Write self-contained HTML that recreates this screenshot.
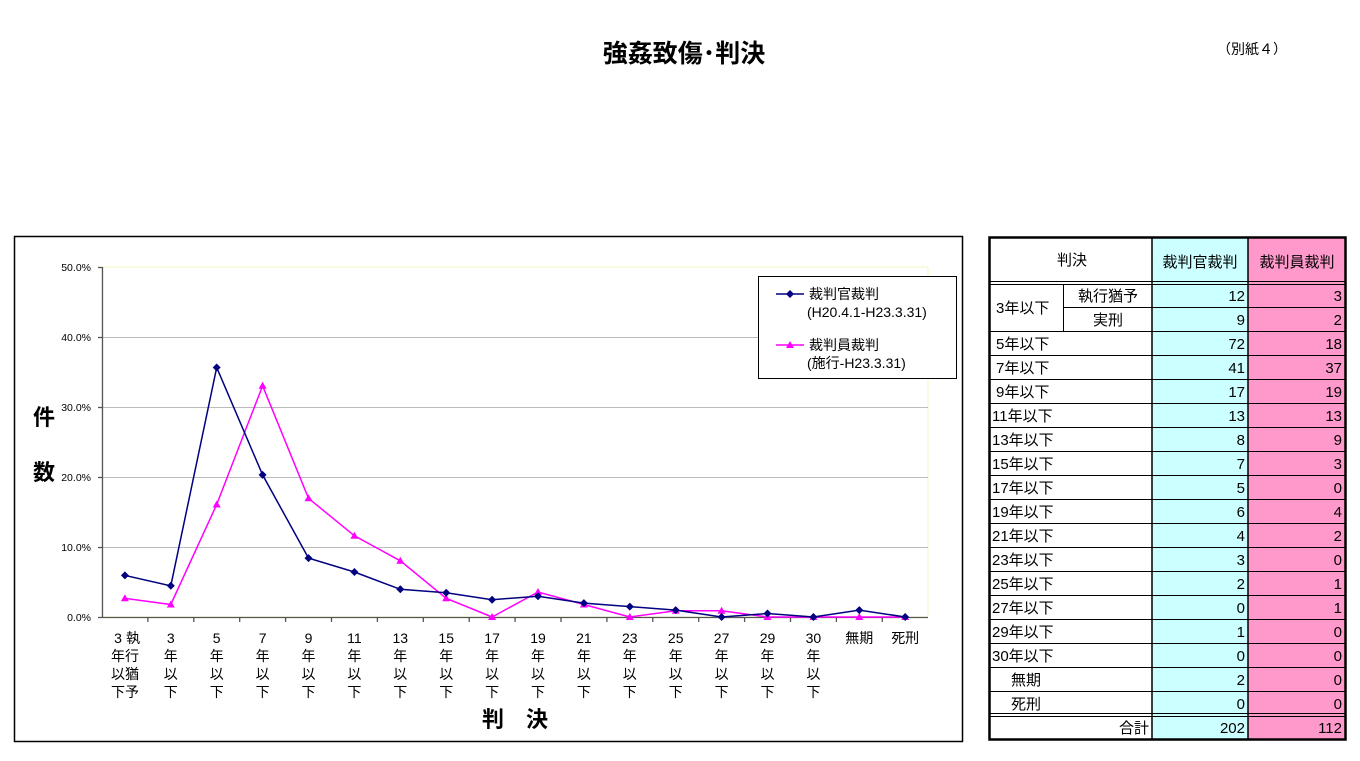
<!DOCTYPE html>
<html><head><meta charset="utf-8"><style>
body{margin:0;background:#fff;width:1360px;height:756px;overflow:hidden;font-family:"Liberation Sans","Noto Sans CJK JP",sans-serif;}
svg text{font-family:"Liberation Sans","Noto Sans CJK JP",sans-serif;}
</style></head><body>
<svg width="1360" height="756" xmlns="http://www.w3.org/2000/svg">
<text x="684" y="62" font-size="25" font-weight="bold" text-anchor="middle">強姦致傷･判決</text>
<text x="1252" y="54" font-size="14" text-anchor="middle">（別紙４）</text>
<rect x="14.5" y="236.5" width="948" height="505" fill="#fff" stroke="#000" stroke-width="1.5"/>
<rect x="102" y="267" width="826" height="350" fill="#fff" stroke="#f4f4c0" stroke-width="1"/>
<g stroke="#bbb" stroke-width="1">
<line x1="102" y1="337.5" x2="928" y2="337.5"/><line x1="102" y1="407.5" x2="928" y2="407.5"/>
<line x1="102" y1="477.5" x2="928" y2="477.5"/><line x1="102" y1="547.5" x2="928" y2="547.5"/>
</g>
<g stroke="#555" stroke-width="1.3">
<line x1="102.5" y1="267" x2="102.5" y2="617"/><line x1="102" y1="617.5" x2="928" y2="617.5"/>
<line x1="98" y1="267.5" x2="102" y2="267.5"/><line x1="98" y1="337.5" x2="102" y2="337.5"/><line x1="98" y1="407.5" x2="102" y2="407.5"/><line x1="98" y1="477.5" x2="102" y2="477.5"/><line x1="98" y1="547.5" x2="102" y2="547.5"/><line x1="98" y1="617.5" x2="102" y2="617.5"/>
<line x1="147.9" y1="617" x2="147.9" y2="622"/><line x1="193.8" y1="617" x2="193.8" y2="622"/><line x1="239.7" y1="617" x2="239.7" y2="622"/><line x1="285.6" y1="617" x2="285.6" y2="622"/><line x1="331.5" y1="617" x2="331.5" y2="622"/><line x1="377.4" y1="617" x2="377.4" y2="622"/><line x1="423.3" y1="617" x2="423.3" y2="622"/><line x1="469.2" y1="617" x2="469.2" y2="622"/><line x1="515.1" y1="617" x2="515.1" y2="622"/><line x1="561" y1="617" x2="561" y2="622"/><line x1="606.9" y1="617" x2="606.9" y2="622"/><line x1="652.8" y1="617" x2="652.8" y2="622"/><line x1="698.7" y1="617" x2="698.7" y2="622"/><line x1="744.6" y1="617" x2="744.6" y2="622"/><line x1="790.5" y1="617" x2="790.5" y2="622"/><line x1="836.4" y1="617" x2="836.4" y2="622"/><line x1="882.3" y1="617" x2="882.3" y2="622"/>
</g>
<g font-size="10.5" text-anchor="end" fill="#000">
<text x="91" y="271">50.0%</text><text x="91" y="341">40.0%</text><text x="91" y="411">30.0%</text><text x="91" y="481">20.0%</text><text x="91" y="551">10.0%</text><text x="91" y="621">0.0%</text>
</g>
<text x="44" y="425" font-size="22" font-weight="bold" text-anchor="middle">件</text>
<text x="44" y="480" font-size="22" font-weight="bold" text-anchor="middle">数</text>
<text x="515" y="727" font-size="22" font-weight="bold" text-anchor="middle">判　決</text>
<g font-size="14" text-anchor="middle">
<text x="118" y="643">3</text><text x="133" y="643">執</text><text x="125" y="661">年行</text><text x="125" y="679">以猶</text><text x="125" y="697">下予</text>
<text x="170.8" y="643">3</text><text x="170.8" y="661">年</text><text x="170.8" y="679">以</text><text x="170.8" y="697">下</text>
<text x="216.7" y="643">5</text><text x="216.7" y="661">年</text><text x="216.7" y="679">以</text><text x="216.7" y="697">下</text>
<text x="262.6" y="643">7</text><text x="262.6" y="661">年</text><text x="262.6" y="679">以</text><text x="262.6" y="697">下</text>
<text x="308.5" y="643">9</text><text x="308.5" y="661">年</text><text x="308.5" y="679">以</text><text x="308.5" y="697">下</text>
<text x="354.4" y="643">11</text><text x="354.4" y="661">年</text><text x="354.4" y="679">以</text><text x="354.4" y="697">下</text>
<text x="400.3" y="643">13</text><text x="400.3" y="661">年</text><text x="400.3" y="679">以</text><text x="400.3" y="697">下</text>
<text x="446.2" y="643">15</text><text x="446.2" y="661">年</text><text x="446.2" y="679">以</text><text x="446.2" y="697">下</text>
<text x="492.1" y="643">17</text><text x="492.1" y="661">年</text><text x="492.1" y="679">以</text><text x="492.1" y="697">下</text>
<text x="538" y="643">19</text><text x="538" y="661">年</text><text x="538" y="679">以</text><text x="538" y="697">下</text>
<text x="583.9" y="643">21</text><text x="583.9" y="661">年</text><text x="583.9" y="679">以</text><text x="583.9" y="697">下</text>
<text x="629.8" y="643">23</text><text x="629.8" y="661">年</text><text x="629.8" y="679">以</text><text x="629.8" y="697">下</text>
<text x="675.7" y="643">25</text><text x="675.7" y="661">年</text><text x="675.7" y="679">以</text><text x="675.7" y="697">下</text>
<text x="721.6" y="643">27</text><text x="721.6" y="661">年</text><text x="721.6" y="679">以</text><text x="721.6" y="697">下</text>
<text x="767.5" y="643">29</text><text x="767.5" y="661">年</text><text x="767.5" y="679">以</text><text x="767.5" y="697">下</text>
<text x="813.4" y="643">30</text><text x="813.4" y="661">年</text><text x="813.4" y="679">以</text><text x="813.4" y="697">下</text>
<text x="859.3" y="643">無期</text><text x="905.2" y="643">死刑</text>
</g>
<polyline fill="none" stroke="#ff00ff" stroke-width="1.5" points="124.9,598.3 170.8,604.5 216.7,504.5 262.6,385.8 308.5,498.3 354.4,535.8 400.3,560.8 446.2,598.3 492.1,617 538,592 583.9,604.5 629.8,617 675.7,610.8 721.6,610.8 767.5,617 813.4,617 859.3,617 905.2,617"/>
<g fill="#ff00ff">
<path d="M124.9,594.3l4,7h-8z"/><path d="M170.8,600.5l4,7h-8z"/><path d="M216.7,500.5l4,7h-8z"/><path d="M262.6,381.8l4,7h-8z"/><path d="M308.5,494.3l4,7h-8z"/><path d="M354.4,531.8l4,7h-8z"/><path d="M400.3,556.8l4,7h-8z"/><path d="M446.2,594.3l4,7h-8z"/><path d="M492.1,613l4,7h-8z"/><path d="M538,588l4,7h-8z"/><path d="M583.9,600.5l4,7h-8z"/><path d="M629.8,613l4,7h-8z"/><path d="M675.7,606.8l4,7h-8z"/><path d="M721.6,606.8l4,7h-8z"/><path d="M767.5,613l4,7h-8z"/><path d="M813.4,613l4,7h-8z"/><path d="M859.3,613l4,7h-8z"/><path d="M905.2,613l4,7h-8z"/>
</g>
<polyline fill="none" stroke="#000080" stroke-width="1.5" points="124.9,575.4 170.8,585.8 216.7,367.5 262.6,474.9 308.5,558.1 354.4,572 400.3,589.3 446.2,592.7 492.1,599.7 538,596.2 583.9,603.1 629.8,606.6 675.7,610.1 721.6,617 767.5,613.5 813.4,617 859.3,610.1 905.2,617"/>
<g fill="#000080">
<path d="M124.9,571.4l4,4l-4,4l-4,-4z"/><path d="M170.8,581.8l4,4l-4,4l-4,-4z"/><path d="M216.7,363.5l4,4l-4,4l-4,-4z"/><path d="M262.6,470.9l4,4l-4,4l-4,-4z"/><path d="M308.5,554.1l4,4l-4,4l-4,-4z"/><path d="M354.4,568l4,4l-4,4l-4,-4z"/><path d="M400.3,585.3l4,4l-4,4l-4,-4z"/><path d="M446.2,588.7l4,4l-4,4l-4,-4z"/><path d="M492.1,595.7l4,4l-4,4l-4,-4z"/><path d="M538,592.2l4,4l-4,4l-4,-4z"/><path d="M583.9,599.1l4,4l-4,4l-4,-4z"/><path d="M629.8,602.6l4,4l-4,4l-4,-4z"/><path d="M675.7,606.1l4,4l-4,4l-4,-4z"/><path d="M721.6,613l4,4l-4,4l-4,-4z"/><path d="M767.5,609.5l4,4l-4,4l-4,-4z"/><path d="M813.4,613l4,4l-4,4l-4,-4z"/><path d="M859.3,606.1l4,4l-4,4l-4,-4z"/><path d="M905.2,613l4,4l-4,4l-4,-4z"/>
</g>
<rect x="758.5" y="276.5" width="198" height="102" fill="#fff" stroke="#000" stroke-width="1"/>
<line x1="776" y1="294" x2="804" y2="294" stroke="#000080" stroke-width="1.5"/><path d="M790,290l4,4l-4,4l-4,-4z" fill="#000080"/>
<text x="809" y="299" font-size="14">裁判官裁判</text>
<text x="807" y="317" font-size="14">(H20.4.1-H23.3.31)</text>
<line x1="776" y1="345" x2="804" y2="345" stroke="#ff00ff" stroke-width="1.5"/><path d="M790,341l4,7h-8z" fill="#ff00ff"/>
<text x="809" y="350" font-size="14">裁判員裁判</text>
<text x="807" y="368" font-size="14">(施行-H23.3.31)</text>
<rect x="1152" y="238" width="96" height="501" fill="#ccffff"/>
<rect x="1248" y="238" width="97" height="501" fill="#ff99cc"/>
<g stroke="#000" stroke-width="1">
<line x1="1063.5" y1="284" x2="1063.5" y2="331"/>
<line x1="1063" y1="307.5" x2="1345" y2="307.5"/>
<line x1="989" y1="331.5" x2="1345" y2="331.5"/><line x1="989" y1="355.5" x2="1345" y2="355.5"/><line x1="989" y1="379.5" x2="1345" y2="379.5"/><line x1="989" y1="403.5" x2="1345" y2="403.5"/><line x1="989" y1="427.5" x2="1345" y2="427.5"/><line x1="989" y1="451.5" x2="1345" y2="451.5"/><line x1="989" y1="475.5" x2="1345" y2="475.5"/><line x1="989" y1="499.5" x2="1345" y2="499.5"/><line x1="989" y1="523.5" x2="1345" y2="523.5"/><line x1="989" y1="547.5" x2="1345" y2="547.5"/><line x1="989" y1="571.5" x2="1345" y2="571.5"/><line x1="989" y1="595.5" x2="1345" y2="595.5"/><line x1="989" y1="619.5" x2="1345" y2="619.5"/><line x1="989" y1="643.5" x2="1345" y2="643.5"/><line x1="989" y1="667.5" x2="1345" y2="667.5"/><line x1="989" y1="691.5" x2="1345" y2="691.5"/>
<line x1="989" y1="281.5" x2="1345" y2="281.5"/><line x1="989" y1="284.5" x2="1345" y2="284.5"/>
<line x1="989" y1="713.5" x2="1345" y2="713.5"/><line x1="989" y1="716.5" x2="1345" y2="716.5"/>
<line x1="1152" y1="238" x2="1152" y2="739" stroke-width="1.5"/><line x1="1248" y1="238" x2="1248" y2="739" stroke-width="1.5"/>
</g>
<rect x="989.5" y="237.5" width="356" height="502" fill="none" stroke="#000" stroke-width="2.5"/>
<g font-size="15">
<text x="1072" y="265" text-anchor="middle">判決</text>
<text x="1200" y="267" text-anchor="middle">裁判官裁判</text>
<text x="1297" y="267" text-anchor="middle">裁判員裁判</text>
<text x="996" y="313">3年以下</text>
<text x="1108" y="301" text-anchor="middle">執行猶予</text>
<text x="1108" y="325" text-anchor="middle">実刑</text>
<text x="996" y="349">5年以下</text><text x="996" y="373">7年以下</text><text x="996" y="397">9年以下</text><text x="992" y="421">11年以下</text><text x="992" y="445">13年以下</text><text x="992" y="469">15年以下</text><text x="992" y="493">17年以下</text><text x="992" y="517">19年以下</text><text x="992" y="541">21年以下</text><text x="992" y="565">23年以下</text><text x="992" y="589">25年以下</text><text x="992" y="613">27年以下</text><text x="992" y="637">29年以下</text><text x="992" y="661">30年以下</text>
<text x="1011" y="685">無期</text><text x="1011" y="709">死刑</text>
<text x="1149" y="733" text-anchor="end">合計</text>
</g>
<g font-size="15" text-anchor="end">
<text x="1245" y="301">12</text><text x="1245" y="325">9</text><text x="1245" y="349">72</text><text x="1245" y="373">41</text><text x="1245" y="397">17</text><text x="1245" y="421">13</text><text x="1245" y="445">8</text><text x="1245" y="469">7</text><text x="1245" y="493">5</text><text x="1245" y="517">6</text><text x="1245" y="541">4</text><text x="1245" y="565">3</text><text x="1245" y="589">2</text><text x="1245" y="613">0</text><text x="1245" y="637">1</text><text x="1245" y="661">0</text><text x="1245" y="685">2</text><text x="1245" y="709">0</text><text x="1245" y="733">202</text>
<text x="1342" y="301">3</text><text x="1342" y="325">2</text><text x="1342" y="349">18</text><text x="1342" y="373">37</text><text x="1342" y="397">19</text><text x="1342" y="421">13</text><text x="1342" y="445">9</text><text x="1342" y="469">3</text><text x="1342" y="493">0</text><text x="1342" y="517">4</text><text x="1342" y="541">2</text><text x="1342" y="565">0</text><text x="1342" y="589">1</text><text x="1342" y="613">1</text><text x="1342" y="637">0</text><text x="1342" y="661">0</text><text x="1342" y="685">0</text><text x="1342" y="709">0</text><text x="1342" y="733">112</text>
</g>
</svg>
</body></html>
